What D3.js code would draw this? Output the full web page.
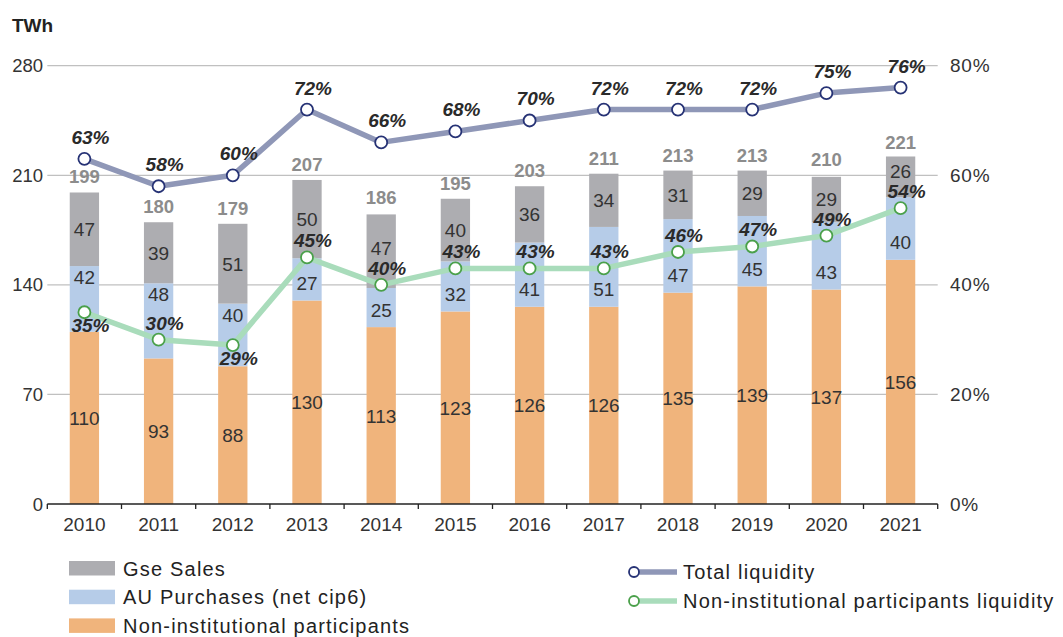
<!DOCTYPE html>
<html>
<head>
<meta charset="utf-8">
<script src="https://cdn.jsdelivr.net/npm/d3@7"></script>
<style>
  body { margin: 0; background: #fff; }
  svg { display: block; font-family: "Liberation Sans", Arial, sans-serif; }
</style>
</head>
<body>
<svg id="chart" width="1063" height="637"></svg>
<script>
// data
const years = ['2010', '2011', '2012', '2013', '2014', '2015', '2016', '2017', '2018', '2019', '2020', '2021'];
const nonInstitutional = [110, 93, 88, 130, 113, 123, 126, 126, 135, 139, 137, 156];
const auPurchases = [42, 48, 40, 27, 25, 32, 41, 51, 47, 45, 43, 40];
const gseSales = [47, 39, 51, 50, 47, 40, 36, 34, 31, 29, 29, 26];
const totals = [199, 180, 179, 207, 186, 195, 203, 211, 213, 213, 210, 221];
const totalLiquidity = [63, 58, 60, 72, 66, 68, 70, 72, 72, 72, 75, 76];
const nonInstLiquidity = [35, 30, 29, 45, 40, 43, 43, 43, 46, 47, 49, 54];
const leftTicks = [0, 70, 140, 210, 280];
const rightTicks = [0, 20, 40, 60, 80];
const greenLabelsBelow = ['2010', '2012'];

const svg = d3.select('#chart');

const x0 = 47.3, x1 = 937.7;
const x = d3.scaleBand().domain(years).range([x0, x1]).paddingInner(0.605).paddingOuter(0.3025);
const y = d3.scaleLinear().domain([0, 280]).range([504, 65.7]);
const yPct = d3.scaleLinear().domain([0, 80]).range([504, 65.7]);
const cx = d => x(d) + x.bandwidth() / 2;

const colors = { gse: '#adadb1', au: '#b6cce8', non: '#f0b47c' };

// gridlines
svg.append('g')
    .selectAll('line')
    .data(leftTicks.filter(t => t > 0))
    .enter()
    .append('line')
    .attr('x1', x0).attr('x2', x1)
    .attr('y1', d => y(d)).attr('y2', d => y(d))
    .attr('stroke', '#c0c0c0').attr('stroke-width', 1.2);

// left axis labels
svg.append('g')
    .selectAll('text')
    .data(leftTicks)
    .enter()
    .append('text')
    .attr('x', 43).attr('y', d => y(d) + 6.5)
    .attr('text-anchor', 'end')
    .attr('font-size', 18.5).attr('fill', '#333')
    .text(d => d);

// right axis labels
svg.append('g')
    .selectAll('text')
    .data(rightTicks)
    .enter()
    .append('text')
    .attr('x', 950).attr('y', d => yPct(d) + 6.5)
    .attr('font-size', 19).attr('letter-spacing', 0.8).attr('fill', '#333')
    .text(d => d + '%');

svg.append('text')
    .attr('x', 12).attr('y', 31.5)
    .attr('font-size', 19).attr('font-weight', 'bold').attr('fill', '#222')
    .text('TWh');

// stacked bars
const rows = years.map((yr, i) => ({ year: yr, idx: i, non: nonInstitutional[i], au: auPurchases[i], gse: gseSales[i] }));
const keys = ['non', 'au', 'gse'];
const stacked = d3.stack().keys(keys)(rows);

const layers = svg.append('g')
    .selectAll('g')
    .data(stacked)
    .enter()
    .append('g')
    .attr('fill', d => colors[d.key]);

layers.selectAll('rect')
    .data(d => d)
    .enter()
    .append('rect')
    .attr('x', d => x(d.data.year))
    .attr('width', x.bandwidth())
    .attr('y', d => y(d[1]))
    .attr('height', d => y(d[0]) - y(d[1]));

// segment labels, nudged away from the green line and its labels
function segmentLabelY(key, d) {
    const top = y(d[1]), bottom = y(d[0]), mid = (top + bottom) / 2;
    const p = yPct(nonInstLiquidity[d.data.idx]);
    if (key === 'au') {
        const frac = (p - top) / (bottom - top);
        return frac > 0.6 ? top + 18 : bottom - 10.5;
    }
    if (key === 'gse') return Math.min(mid + 7, p - 30);
    return mid + 7;
}

layers.each(function (layer) {
    d3.select(this).selectAll('text')
        .data(layer)
        .enter()
        .append('text')
        .attr('x', d => cx(d.data.year))
        .attr('y', d => segmentLabelY(layer.key, d))
        .attr('text-anchor', 'middle')
        .attr('font-size', 19).attr('fill', '#333')
        .text(d => d[1] - d[0]);
});

// totals above bars
svg.append('g')
    .selectAll('text')
    .data(years)
    .enter()
    .append('text')
    .attr('x', d => cx(d))
    .attr('y', (d, i) => y(totals[i]) - 9)
    .attr('text-anchor', 'middle')
    .attr('font-size', 18.5).attr('font-weight', 'bold').attr('fill', '#8c8c8c')
    .text((d, i) => totals[i]);

// x axis
const xAxis = svg.append('g').attr('transform', 'translate(0,504)');
xAxis.append('line').attr('x1', x0).attr('x2', x1).attr('stroke', '#222').attr('stroke-width', 1.3);
xAxis.selectAll('line.tick')
    .data(d3.range(years.length + 1))
    .enter()
    .append('line')
    .attr('class', 'tick')
    .attr('x1', i => x0 + i * x.step()).attr('x2', i => x0 + i * x.step())
    .attr('y1', 0).attr('y2', 5)
    .attr('stroke', '#222').attr('stroke-width', 1.3);
xAxis.selectAll('text')
    .data(years)
    .enter()
    .append('text')
    .attr('x', d => cx(d))
    .attr('y', 27)
    .attr('text-anchor', 'middle')
    .attr('font-size', 19).attr('fill', '#333')
    .text(d => d);

// lines
function drawLine(values, lineColor, markerColor, labelPos) {
    const g = svg.append('g');
    const line = d3.line().x((d, i) => cx(years[i])).y(d => yPct(d));
    g.append('path')
        .attr('d', line(values))
        .attr('fill', 'none')
        .attr('stroke', lineColor).attr('stroke-width', 5.5)
        .attr('stroke-linejoin', 'round');
    g.selectAll('circle')
        .data(values)
        .enter()
        .append('circle')
        .attr('cx', (d, i) => cx(years[i])).attr('cy', d => yPct(d))
        .attr('r', 6)
        .attr('fill', '#fff').attr('stroke', markerColor).attr('stroke-width', 1.8);
    g.selectAll('text')
        .data(values)
        .enter()
        .append('text')
        .attr('x', (d, i) => cx(years[i]) + 6)
        .attr('y', (d, i) => yPct(d) + labelPos(years[i]))
        .attr('text-anchor', 'middle')
        .attr('font-size', 19).attr('font-style', 'italic').attr('font-weight', 'bold')
        .attr('fill', '#2a2a2a')
        .text(d => d + '%');
}

drawLine(totalLiquidity, '#8f97b7', '#263275', () => -15);
drawLine(nonInstLiquidity, '#a9dcbb', '#4aa04a', yr => greenLabelsBelow.includes(yr) ? 20 : -10);

// legend: bars
const barLegend = [
    { label: 'Gse Sales', color: colors.gse },
    { label: 'AU Purchases (net cip6)', color: colors.au },
    { label: 'Non-institutional participants', color: colors.non }
];
const bl = svg.append('g')
    .selectAll('g')
    .data(barLegend)
    .enter()
    .append('g')
    .attr('transform', (d, i) => 'translate(69,' + (561 + i * 28.7) + ')');
bl.append('rect').attr('width', 46).attr('height', 14.5).attr('fill', d => d.color);
bl.append('text').attr('x', 54).attr('y', 14.5)
    .attr('font-size', 20).attr('letter-spacing', 1.2).attr('fill', '#222')
    .text(d => d.label);

// legend: lines
const lineLegend = [
    { label: 'Total liquidity', line: '#8f97b7', marker: '#263275' },
    { label: 'Non-institutional participants liquidity', line: '#a9dcbb', marker: '#4aa04a' }
];
const ll = svg.append('g')
    .selectAll('g')
    .data(lineLegend)
    .enter()
    .append('g')
    .attr('transform', (d, i) => 'translate(634,' + (572 + i * 29) + ')');
ll.append('line').attr('x1', 0).attr('x2', 43).attr('stroke', d => d.line).attr('stroke-width', 5.5);
ll.append('circle').attr('r', 5).attr('fill', '#fff').attr('stroke', d => d.marker).attr('stroke-width', 1.8);
ll.append('text').attr('x', 49).attr('y', 7.2)
    .attr('font-size', 20).attr('letter-spacing', 1.2).attr('fill', '#222')
    .text(d => d.label);
</script>
</body>
</html>
